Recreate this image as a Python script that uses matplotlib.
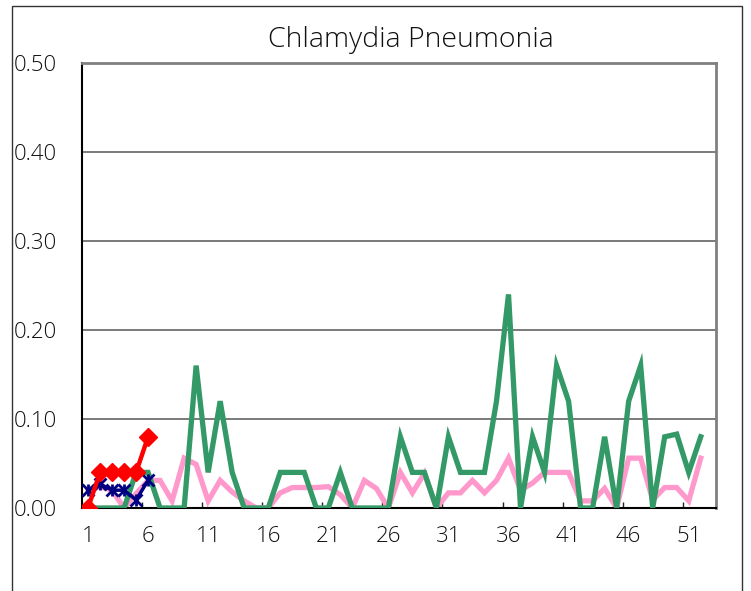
import matplotlib
matplotlib.use("Agg")
import matplotlib.pyplot as plt
from matplotlib.patches import Rectangle
import numpy as np

weeks = list(range(1, 53))
tick_labels = [str(w) for w in range(1, 53, 5)]

green = [0, 0, 0, 0, 0.04, 0.04, 0, 0, 0, 0.16,
         0.04, 0.12, 0.04, 0, 0, 0, 0.04, 0.04, 0.04, 0,
         0, 0.04, 0, 0, 0, 0, 0.08, 0.04, 0.04, 0,
         0.08, 0.04, 0.04, 0.04, 0.12, 0.24, 0, 0.08, 0.04, 0.16,
         0.12, 0, 0, 0.08, 0, 0.12, 0.16, 0, 0.08, 0.083,
         0.04, 0.08]
pink = [0.02, 0.024, 0.02, 0, 0.016, 0.031, 0.031, 0.008, 0.056, 0.049,
        0.008, 0.031, 0.018, 0.008, 0, 0, 0.017, 0.023, 0.023, 0.023,
        0.024, 0.015, 0, 0.031, 0.022, 0, 0.04, 0.017, 0.039, 0,
        0.017, 0.017, 0.031, 0.017, 0.031, 0.056, 0.02, 0.028, 0.04, 0.04,
        0.04, 0.008, 0.008, 0.022, 0, 0.056, 0.056, 0.009, 0.023, 0.023,
        0.008, 0.056]
blue_weeks = [1, 2, 3, 4, 5, 6]
blue = [0.02, 0.027, 0.02, 0.02, 0.009, 0.031]
red_weeks = [1, 2, 3, 4, 5, 6]
red = [0, 0.04, 0.04, 0.04, 0.04, 0.08]

FONT = dict(family=["Open Sans", "DejaVu Sans"], weight="light")

W, H = 751, 591
fig = plt.figure(figsize=(W / 100, H / 100), dpi=100)
fig.patches.append(Rectangle((12 / W, -0.1), (742 - 12) / W, 1.1 - 6 / H,
                             transform=fig.transFigure, fill=False,
                             edgecolor="#333333", linewidth=1.0))
ax = fig.add_axes([82 / W, 1 - 508 / H, (716 - 82) / W, (508 - 63) / H])

ax.plot(weeks, pink, color="#FF99CC", lw=3.8, solid_joinstyle="miter", zorder=2)
ax.plot(weeks, green, color="#339966", lw=3.8, solid_joinstyle="miter", zorder=3)
ax.plot(blue_weeks, blue, color="#000080", lw=2.5, marker="x", ms=8, mew=2, zorder=4)
ax.plot(blue_weeks, blue, color="#000080", lw=0, marker="|", ms=9, mew=2, zorder=4)
ax.plot(red_weeks, red, color="#FF0000", lw=3.2, marker="D", ms=9, zorder=5)

ax.set_xlim(0.58, 53.27)
ax.set_ylim(0, 0.5)
yt = np.arange(0, 0.51, 0.1)
ax.set_yticks(yt)
ax.set_yticklabels([f"{v:.2f}" for v in yt], **FONT)
ax.set_xticks(list(range(1, 53, 5)))
ax.set_xticklabels(tick_labels, **FONT)
ax.set_xticks([x + 0.5 for x in range(0, 53, 5)], minor=True)
ax.tick_params(axis="x", which="major", length=0, pad=13, labelsize=16, colors="#111111")
ax.tick_params(axis="x", which="minor", direction="in", length=4, width=1, color="#222222")
ax.tick_params(axis="y", which="major", direction="in", length=0, pad=18, labelsize=16, colors="#111111")
for v in [0.1, 0.2, 0.3, 0.4]:
    ax.axhline(v, color="#707070", lw=1.3, zorder=1)

ax.spines["left"].set_color("#000000")
ax.spines["bottom"].set_color("#000000")
ax.spines["left"].set_linewidth(1.5)
ax.spines["bottom"].set_linewidth(1.5)
ax.spines["top"].set_color("#808080")
ax.spines["right"].set_color("#808080")
ax.spines["top"].set_linewidth(2)
ax.spines["right"].set_linewidth(2)

fig.text(411 / W, 1 - 40 / H, "Chlamydia Pneumonia", ha="center", va="center",
         fontsize=20.5, color="#111111", **FONT)

fig.savefig("out.png", dpi=100)
